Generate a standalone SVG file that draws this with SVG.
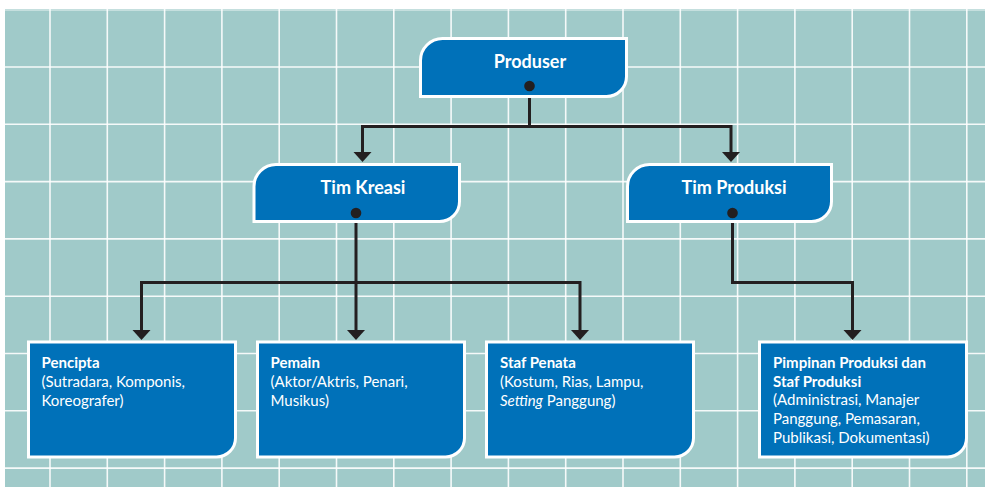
<svg xmlns="http://www.w3.org/2000/svg" width="985" height="487" viewBox="0 0 985 487">
  <defs>
    <style>
      .bg { fill: #a0cac9; }
      .grid line { stroke: #ffffff; stroke-width: 1.6; opacity: 0.9; }
      .box { fill: #0071b9; stroke: #ffffff; stroke-width: 3; }
      .head { font-family: Lato, "Noto Sans", sans-serif; font-weight: 700; font-size: 18px; fill: #ffffff; text-anchor: middle; }
      .lbl { font-family: Lato, "Noto Sans", sans-serif; font-size: 15px; fill: #ffffff; }
      .lbl .b { font-weight: 700; }
      .wire { fill: none; stroke: #231f20; stroke-width: 3; }
      .dot { fill: #231f20; }
    </style>
    <marker id="arrow" markerUnits="userSpaceOnUse" markerWidth="20" markerHeight="20" viewBox="0 -10 12 20" refX="0" refY="0" orient="auto">
      <path d="M0,-9 L10,0 L0,9 Z" fill="#231f20"/>
    </marker>
  </defs>

  <!-- background grid -->
  <rect class="bg" x="5" y="9" width="980" height="478"/>
  <g class="grid">
    <line x1="5" y1="10" x2="985" y2="10" stroke-opacity="0.6"/>
    <line x1="5" y1="67" x2="985" y2="67"/>
    <line x1="5" y1="124.3" x2="985" y2="124.3"/>
    <line x1="5" y1="181.6" x2="985" y2="181.6"/>
    <line x1="5" y1="238.9" x2="985" y2="238.9"/>
    <line x1="5" y1="296.2" x2="985" y2="296.2"/>
    <line x1="5" y1="353.5" x2="985" y2="353.5"/>
    <line x1="5" y1="410.8" x2="985" y2="410.8"/>
    <line x1="5" y1="468.1" x2="985" y2="468.1"/>
    <line x1="50" y1="9" x2="50" y2="487"/>
    <line x1="107.3" y1="9" x2="107.3" y2="487"/>
    <line x1="164.6" y1="9" x2="164.6" y2="487"/>
    <line x1="221.9" y1="9" x2="221.9" y2="487"/>
    <line x1="279.2" y1="9" x2="279.2" y2="487"/>
    <line x1="336.5" y1="9" x2="336.5" y2="487"/>
    <line x1="393.8" y1="9" x2="393.8" y2="487"/>
    <line x1="451.1" y1="9" x2="451.1" y2="487"/>
    <line x1="508.4" y1="9" x2="508.4" y2="487"/>
    <line x1="565.7" y1="9" x2="565.7" y2="487"/>
    <line x1="623" y1="9" x2="623" y2="487"/>
    <line x1="680.3" y1="9" x2="680.3" y2="487"/>
    <line x1="737.6" y1="9" x2="737.6" y2="487"/>
    <line x1="794.9" y1="9" x2="794.9" y2="487"/>
    <line x1="852.2" y1="9" x2="852.2" y2="487"/>
    <line x1="909.5" y1="9" x2="909.5" y2="487"/>
    <line x1="966.8" y1="9" x2="966.8" y2="487"/>
  </g>

  <!-- connectors -->
  <g id="connectors">
    <path class="wire" d="M529.5,86 V126.5 H362.5 V152" marker-end="url(#arrow)"/>
    <path class="wire" d="M529.5,126.5 H731 V152" marker-end="url(#arrow)"/>
    <path class="wire" d="M356,213 V282.5 H141.5 V330" marker-end="url(#arrow)"/>
    <path class="wire" d="M356,282.5 V330" marker-end="url(#arrow)"/>
    <path class="wire" d="M356,282.5 H580 V330" marker-end="url(#arrow)"/>
    <path class="wire" d="M732.5,213 V282.5 H852.5 V330" marker-end="url(#arrow)"/>
  </g>

  <!-- top level -->
  <g id="produser">
    <path class="box" d="M420.5,96.5 V60.5 A22,22 0 0 1 442.5,38.5 H626.5 V76.5 A20,20 0 0 1 606.5,96.5 Z"/>
    <text class="head" x="530" y="68">Produser</text>
    <circle class="dot" cx="529.5" cy="86" r="5.3"/>
  </g>

  <!-- second level -->
  <g id="tim-kreasi">
    <path class="box" d="M254,221.5 V186.5 A22,22 0 0 1 276,164.5 H459.5 V201.5 A20,20 0 0 1 439.5,221.5 Z"/>
    <text class="head" x="363" y="194">Tim Kreasi</text>
    <circle class="dot" cx="356" cy="213" r="5.3"/>
  </g>
  <g id="tim-produksi">
    <path class="box" d="M627.5,221.5 V186.5 A22,22 0 0 1 649.5,164.5 H831.5 V201.5 A20,20 0 0 1 811.5,221.5 Z"/>
    <text class="head" x="734" y="194">Tim Produksi</text>
    <circle class="dot" cx="732.5" cy="213" r="5.3"/>
  </g>

  <!-- third level -->
  <g id="pencipta">
    <path class="box" d="M28.5,342 H235.5 V438 A19,19 0 0 1 216.5,457 H28.5 Z"/>
    <text class="lbl" x="41.5" y="368"><tspan class="b">Pencipta</tspan><tspan x="41.5" dy="19">(Sutradara, Komponis,</tspan><tspan x="41.5" dy="19">Koreografer)</tspan></text>
  </g>
  <g id="pemain">
    <path class="box" d="M257.5,342 H464.5 V438 A19,19 0 0 1 445.5,457 H257.5 Z"/>
    <text class="lbl" x="270.5" y="368"><tspan class="b">Pemain</tspan><tspan x="270.5" dy="19">(Aktor/Aktris, Penari,</tspan><tspan x="270.5" dy="19">Musikus)</tspan></text>
  </g>
  <g id="staf-penata">
    <path class="box" d="M486.5,342 H693.5 V438 A19,19 0 0 1 674.5,457 H486.5 Z"/>
    <text class="lbl" x="500" y="368"><tspan class="b">Staf Penata</tspan><tspan x="500" dy="19">(Kostum, Rias, Lampu,</tspan><tspan x="500" dy="19"><tspan font-style="italic">Setting</tspan> Panggung)</tspan></text>
  </g>
  <g id="pimpinan-produksi">
    <path class="box" d="M759.5,342 H966.5 V438 A19,19 0 0 1 947.5,457 H759.5 Z"/>
    <text class="lbl" x="773" y="368"><tspan class="b">Pimpinan Produksi dan</tspan><tspan class="b" x="773" dy="18.7">Staf Produksi</tspan><tspan x="773" dy="18.7">(Administrasi, Manajer</tspan><tspan x="773" dy="18.7">Panggung, Pemasaran,</tspan><tspan x="773" dy="18.7">Publikasi, Dokumentasi)</tspan></text>
  </g>
</svg>
